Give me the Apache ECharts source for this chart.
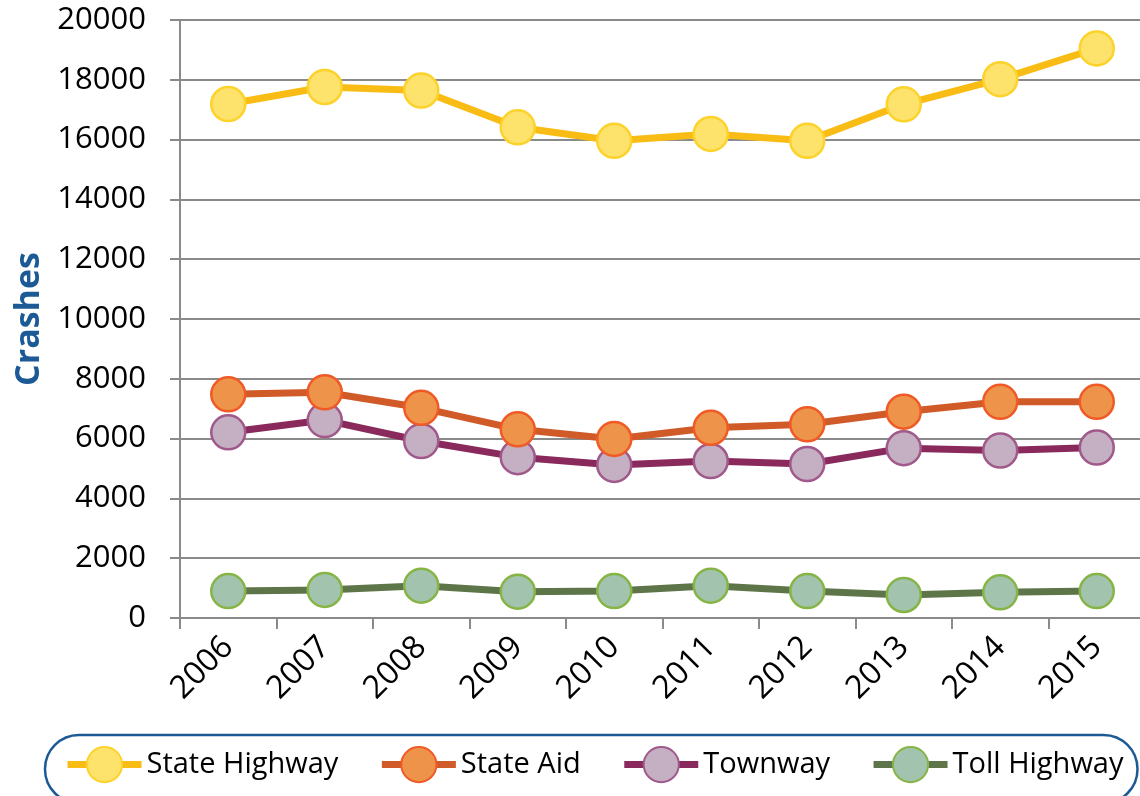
<!DOCTYPE html>
<html>
<head>
<meta charset="utf-8">
<script src="https://cdn.jsdelivr.net/npm/echarts@6/dist/echarts.min.js"></script>
<style>
html,body{margin:0;padding:0;background:#fff;}
#chart{width:1140px;height:796px;}
</style>
</head>
<body>
<div id="chart"></div>
<script>
const years = ['2006','2007','2008','2009','2010','2011','2012','2013','2014','2015'];
const stateHighway = [17190, 17760, 17640, 16410, 15960, 16190, 15960, 17180, 18020, 19050];
const stateAid     = [7480, 7550, 7030, 6310, 5990, 6360, 6480, 6900, 7230, 7230];
const townway      = [6210, 6620, 5920, 5380, 5120, 5250, 5150, 5680, 5600, 5700];
const tollHighway  = [900, 940, 1080, 880, 900, 1080, 900, 770, 860, 900];
const yTicks = {min: 0, max: 20000, interval: 2000};

const FONT = '"Open Sans", sans-serif';
function mk(name, data, line, fill, border, z) {
  return {
    name: name, type: 'line', data: data, z: z,
    symbol: 'circle', symbolSize: 34,
    lineStyle: {color: line, width: 7},
    itemStyle: {color: fill, borderColor: border, borderWidth: 2.5},
    emphasis: {disabled: true}
  };
}
const chart = echarts.init(document.getElementById('chart'), null, {renderer: 'canvas'});
chart.setOption({
  animation: false,
  backgroundColor: '#fff',
  grid: {left: 180, top: 20, width: 965, height: 598, containLabel: false, outerBoundsMode: 'none'},
  xAxis: {
    type: 'category', data: years, boundaryGap: true,
    axisLine: {lineStyle: {color: '#8a8a8a', width: 2}},
    axisTick: {show: true, length: 11, lineStyle: {color: '#8a8a8a', width: 2}},
    axisLabel: {rotate: 45, fontFamily: FONT, fontSize: 32, color: '#000', margin: 24},
    splitLine: {show: false}
  },
  yAxis: {
    type: 'value', min: yTicks.min, max: yTicks.max, interval: yTicks.interval,
    name: 'Crashes', nameLocation: 'middle', nameRotate: 90, nameGap: 134,
    nameTextStyle: {fontFamily: FONT, fontWeight: 'bold', fontSize: 34, color: '#1c5a96'},
    axisLine: {show: true, lineStyle: {color: '#8a8a8a', width: 2}},
    axisTick: {show: true, length: 10, lineStyle: {color: '#8a8a8a', width: 2}},
    axisLabel: {fontFamily: FONT, fontSize: 31, color: '#000', margin: 34,
      formatter: function (v) { return String(v); }},
    splitLine: {show: true, lineStyle: {color: '#8a8a8a', width: 2}}
  },
  legend: {
    left: 45, top: 735, width: 1200, orient: 'horizontal',
    data: ['State Highway', 'State Aid', 'Townway', 'Toll Highway'],
    itemWidth: 74, itemHeight: 44, itemGap: 40,
    padding: [11, 14, 20, 19],
    lineStyle: {width: 7},
    borderColor: '#1c5a96', borderWidth: 2.5, borderRadius: 34,
    textStyle: {fontFamily: FONT, fontSize: 29, color: '#000'}
  },
  series: [
    mk('Toll Highway', tollHighway, '#5e7549', '#a2c4ae', '#86b446', 2),
    mk('Townway', townway, '#8a2a5c', '#c4b0c2', '#a0598a', 3),
    mk('State Aid', stateAid, '#d05a28', '#ee934a', '#f05a26', 4),
    mk('State Highway', stateHighway, '#f9bc15', '#fde36c', '#fcd22b', 5)
  ]
});
</script>
</body>
</html>
